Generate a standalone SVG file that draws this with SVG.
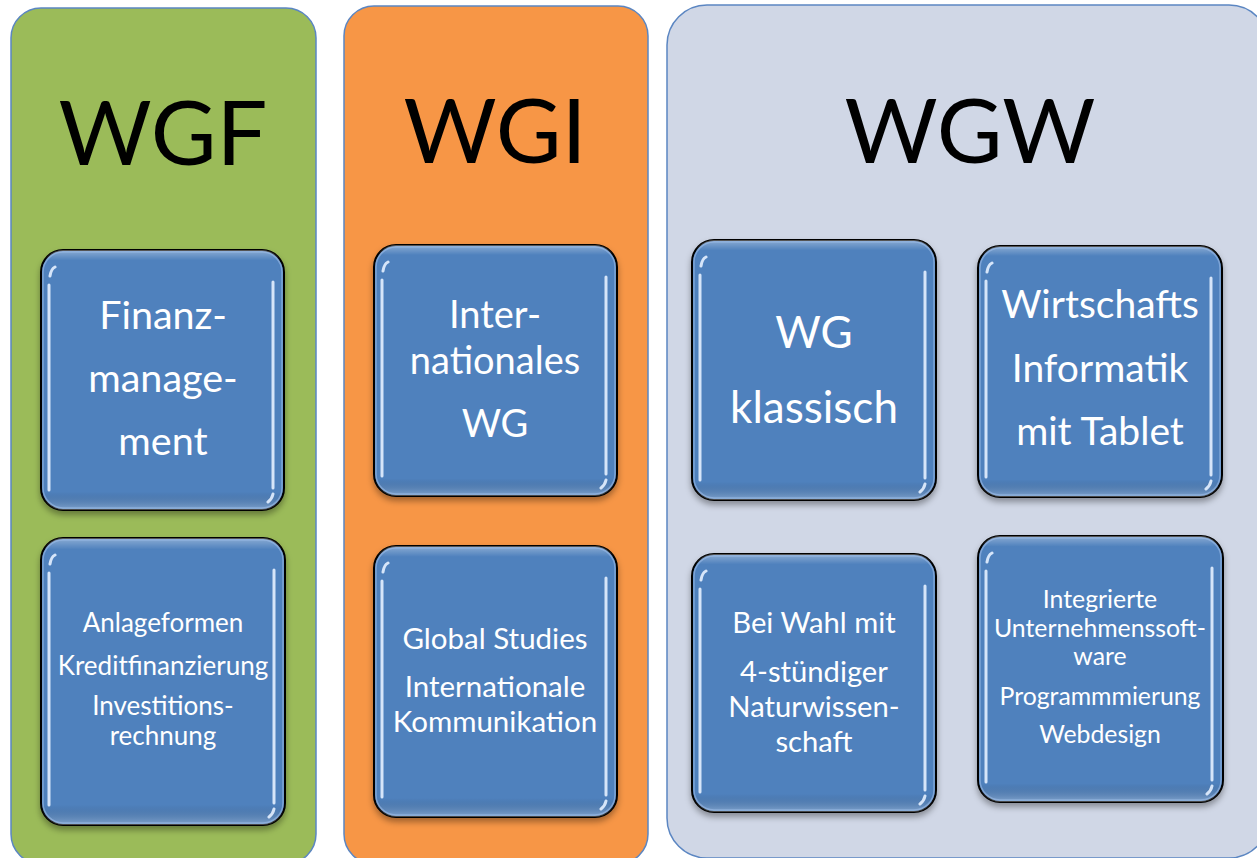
<svg xmlns="http://www.w3.org/2000/svg" width="1257" height="858" viewBox="0 0 1257 858">
<style>
.panel{stroke:#5B86C2;stroke-width:1.5}
.head{font-family:"Lato","Carlito","Liberation Sans",sans-serif;font-size:90px;fill:#000;text-anchor:middle}
.box{fill:#4F81BD;stroke:#000;stroke-width:2}
.gloss{fill:url(#gl);stroke:none}
.inner{fill:none;stroke:#9DBDE8;stroke-width:1.5;opacity:0.6}
.hl{fill:none;stroke:#E4F0FF;stroke-width:3;stroke-linecap:round;opacity:0.9}
.t{font-family:"Lato","Carlito","Liberation Sans",sans-serif;fill:#fff;text-anchor:middle}
</style>
<defs>
<linearGradient id="gl" x1="0" y1="0" x2="0" y2="1">
<stop offset="0" stop-color="#fff" stop-opacity="0.35"/>
<stop offset="0.04" stop-color="#fff" stop-opacity="0"/>
<stop offset="0.93" stop-color="#000" stop-opacity="0"/>
<stop offset="1" stop-color="#fff" stop-opacity="0.3"/>
</linearGradient>
<filter id="sh" x="-10%" y="-10%" width="120%" height="125%">
<feDropShadow dx="0" dy="4" stdDeviation="3" flood-color="#000" flood-opacity="0.35"/>
</filter>
</defs>

<g id="panel-wgf">
<rect class="panel" x="11" y="8" width="305" height="856" rx="30" fill="#9BBB59"/>
<text class="head" x="163" y="165">WGF</text>
</g>
<g id="panel-wgi">
<rect class="panel" x="344" y="6" width="304" height="858" rx="30" fill="#F79646"/>
<text class="head" x="495" y="163">WGI</text>
</g>
<g id="panel-wgw">
<rect class="panel" x="667" y="5" width="602" height="853" rx="40" fill="#D0D7E6"/>
<text class="head" x="970" y="163">WGW</text>
</g>

<g id="finanz">
<rect class="box" x="41" y="250" width="243" height="260" rx="22" filter="url(#sh)"/>
<rect class="gloss" x="41" y="250" width="243" height="260" rx="22"/>
<rect class="inner" x="43" y="252" width="239" height="256" rx="20"/>
<path class="hl" d="M49,285 L49,490 M50,276 Q51,269 55,267 M273,282 L273,488 M268,502 Q272,499 273,494"/>
<text class="t" font-size="39.5" x="163" y="329">Finanz-</text>
<text class="t" font-size="39.5" x="163" y="392">manage-</text>
<text class="t" font-size="39.5" x="163" y="455">ment</text>
</g>

<g id="anlage">
<rect class="box" x="41" y="538" width="244" height="287" rx="22" filter="url(#sh)"/>
<rect class="gloss" x="41" y="538" width="244" height="287" rx="22"/>
<rect class="inner" x="43" y="540" width="240" height="283" rx="20"/>
<path class="hl" d="M49,573 L49,805 M50,564 Q51,557 55,555 M274,570 L274,803 M269,817 Q273,814 274,809"/>
<text class="t" font-size="26" x="163" y="632">Anlageformen</text>
<text class="t" font-size="26" x="163" y="675">Kreditfinanzierung</text>
<text class="t" font-size="26" x="163" y="715">Investitions-</text>
<text class="t" font-size="26" x="163" y="745">rechnung</text>
</g>

<g id="inter">
<rect class="box" x="374" y="245" width="243" height="251" rx="22" filter="url(#sh)"/>
<rect class="gloss" x="374" y="245" width="243" height="251" rx="22"/>
<rect class="inner" x="376" y="247" width="239" height="247" rx="20"/>
<path class="hl" d="M382,280 L382,476 M383,271 Q384,264 388,262 M606,277 L606,474 M601,488 Q605,485 606,480"/>
<text class="t" font-size="38" x="495" y="328">Inter-</text>
<text class="t" font-size="38" x="495" y="374">nationales</text>
<text class="t" font-size="38" x="495" y="437">WG</text>
</g>

<g id="global">
<rect class="box" x="374" y="546" width="243" height="271" rx="22" filter="url(#sh)"/>
<rect class="gloss" x="374" y="546" width="243" height="271" rx="22"/>
<rect class="inner" x="376" y="548" width="239" height="267" rx="20"/>
<path class="hl" d="M382,581 L382,797 M383,572 Q384,565 388,563 M606,578 L606,795 M601,809 Q605,806 606,801"/>
<text class="t" font-size="29.5" x="495" y="649">Global Studies</text>
<text class="t" font-size="29.5" x="495" y="697">Internationale</text>
<text class="t" font-size="29.5" x="495" y="732">Kommunikation</text>
</g>

<g id="wg-klassisch">
<rect class="box" x="692" y="240" width="244" height="260" rx="22" filter="url(#sh)"/>
<rect class="gloss" x="692" y="240" width="244" height="260" rx="22"/>
<rect class="inner" x="694" y="242" width="240" height="256" rx="20"/>
<path class="hl" d="M700,275 L700,480 M701,266 Q702,259 706,257 M925,272 L925,478 M920,492 Q924,489 925,484"/>
<text class="t" font-size="44" x="814" y="348">WG</text>
<text class="t" font-size="44" x="814" y="423">klassisch</text>
</g>

<g id="wirtschaftsinformatik">
<rect class="box" x="978" y="246" width="244" height="251" rx="22" filter="url(#sh)"/>
<rect class="gloss" x="978" y="246" width="244" height="251" rx="22"/>
<rect class="inner" x="980" y="248" width="240" height="247" rx="20"/>
<path class="hl" d="M986,281 L986,477 M987,272 Q988,265 992,263 M1211,278 L1211,475 M1206,489 Q1210,486 1211,481"/>
<text class="t" font-size="39" x="1100" y="318">Wirtschafts</text>
<text class="t" font-size="39" x="1100" y="382">Informatik</text>
<text class="t" font-size="39" x="1100" y="445">mit Tablet</text>
</g>

<g id="naturwissenschaft">
<rect class="box" x="692" y="554" width="244" height="258" rx="22" filter="url(#sh)"/>
<rect class="gloss" x="692" y="554" width="244" height="258" rx="22"/>
<rect class="inner" x="694" y="556" width="240" height="254" rx="20"/>
<path class="hl" d="M700,589 L700,792 M701,580 Q702,573 706,571 M925,586 L925,790 M920,804 Q924,801 925,796"/>
<text class="t" font-size="29.2" x="814" y="633">Bei Wahl mit</text>
<text class="t" font-size="29.2" x="814" y="682"> 4-stündiger</text>
<text class="t" font-size="29.2" x="814" y="717">Naturwissen-</text>
<text class="t" font-size="29.2" x="814" y="752">schaft</text>
</g>

<g id="software">
<rect class="box" x="978" y="536" width="245" height="266" rx="22" filter="url(#sh)"/>
<rect class="gloss" x="978" y="536" width="245" height="266" rx="22"/>
<rect class="inner" x="980" y="538" width="241" height="262" rx="20"/>
<path class="hl" d="M986,571 L986,782 M987,562 Q988,555 992,553 M1212,568 L1212,780 M1207,794 Q1211,791 1212,786"/>
<text class="t" font-size="24.8" x="1100" y="608">Integrierte</text>
<text class="t" font-size="24.8" x="1100" y="637">Unternehmenssoft-</text>
<text class="t" font-size="24.8" x="1100" y="665">ware</text>
<text class="t" font-size="24.8" x="1100" y="705">Programmmierung</text>
<text class="t" font-size="24.8" x="1100" y="743">Webdesign</text>
</g>

<g id="connectors"></g>
</svg>
